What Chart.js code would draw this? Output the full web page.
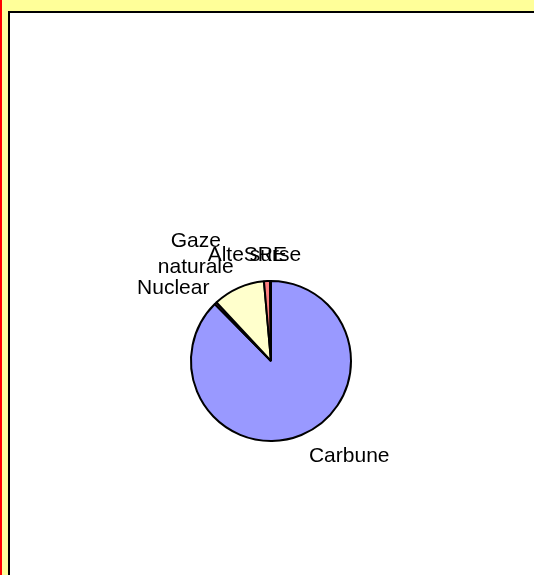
<!DOCTYPE html>
<html>
<head>
<meta charset="utf-8">
<script src="https://cdn.jsdelivr.net/npm/chart.js@4/dist/chart.umd.min.js"></script>
<style>
    html, body { margin: 0; padding: 0; }
    body {
        width: 534px;
        height: 575px;
        overflow: hidden;
        position: relative;
        background: #FFFF99;
    }
    #redEdge {
        position: absolute;
        left: 0; top: 0;
        width: 2px; height: 575px;
        background: #FF0000;
    }
    #plotFrame {
        position: absolute;
        left: 8px; top: 11px;
        width: 600px; height: 640px;
        background: #FFFFFF;
        border: 2px solid #000000;
    }
    #pieChart {
        position: absolute;
        left: 0; top: 0;
    }
</style>
</head>
<body>
<div id="redEdge"></div>
<div id="plotFrame"></div>
<canvas id="pieChart" width="534" height="575"></canvas>
<script>
// energy sources (share, %)
const sources = ['Carbune', 'Nuclear', ['Gaze', 'naturale'], 'Alte surse', 'SRE'];
const shares = [87.6, 0.5, 10.5, 1.2, 0.2];
const sliceColors = ['#9999FF', '#993366', '#FFFFCC', '#FF8080', '#CCFFFF'];

// small shifts Excel applied to some labels (crowded ones at the top)
const labelNudge = {
    'Carbune': [3, 1],
    'Nuclear': [2, 1],
    'Gaze naturale': [0, -2],
    'Alte surse': [-12, -6],
    'SRE': [-5, -6]
};

const outsideLabels = {
    id: 'outsideLabels',
    afterDatasetsDraw(chart) {
        const ctx = chart.ctx;
        const meta = chart.getDatasetMeta(0);
        ctx.save();
        ctx.font = '21px "Liberation Sans", Arial, sans-serif';
        ctx.fillStyle = '#000000';
        ctx.textAlign = 'center';
        ctx.textBaseline = 'alphabetic';
        const gap = 12, lineH = 26, capH = 15;

        meta.data.forEach((arc, i) => {
            const p = arc.getProps(['x', 'y', 'startAngle', 'endAngle', 'outerRadius'], true);
            const mid = (p.startAngle + p.endAngle) / 2;
            const cx = Math.cos(mid), sy = Math.sin(mid);
            const r = p.outerRadius + gap;
            const ax = p.x + cx * r, ay = p.y + sy * r;

            const lines = [].concat(chart.data.labels[i]);
            const w = Math.max(...lines.map(t => ctx.measureText(t).width));

            let left;
            if (cx > 0.15) left = ax;
            else if (cx < -0.15) left = ax - w;
            else left = ax - w / 2;

            let firstBase;
            if (sy < 0) firstBase = ay - 2 - lineH * (lines.length - 1);
            else firstBase = ay + capH;

            const key = lines.join(' ');
            const nd = labelNudge[key] || [0, 0];
            lines.forEach((t, j) => {
                ctx.fillText(t, left + w / 2 + nd[0], firstBase + j * lineH + nd[1]);
            });
        });
        ctx.restore();
    }
};

new Chart(document.getElementById('pieChart'), {
    type: 'pie',
    data: {
        labels: sources,
        datasets: [{
            data: shares,
            backgroundColor: sliceColors,
            borderColor: '#000000',
            borderWidth: 2
        }]
    },
    options: {
        responsive: false,
        animation: false,
        layout: {
            padding: { left: 190, right: 182, top: 280, bottom: 133 }
        },
        plugins: {
            legend: { display: false },
            tooltip: { enabled: false }
        }
    },
    plugins: [outsideLabels]
});
</script>
</body>
</html>
